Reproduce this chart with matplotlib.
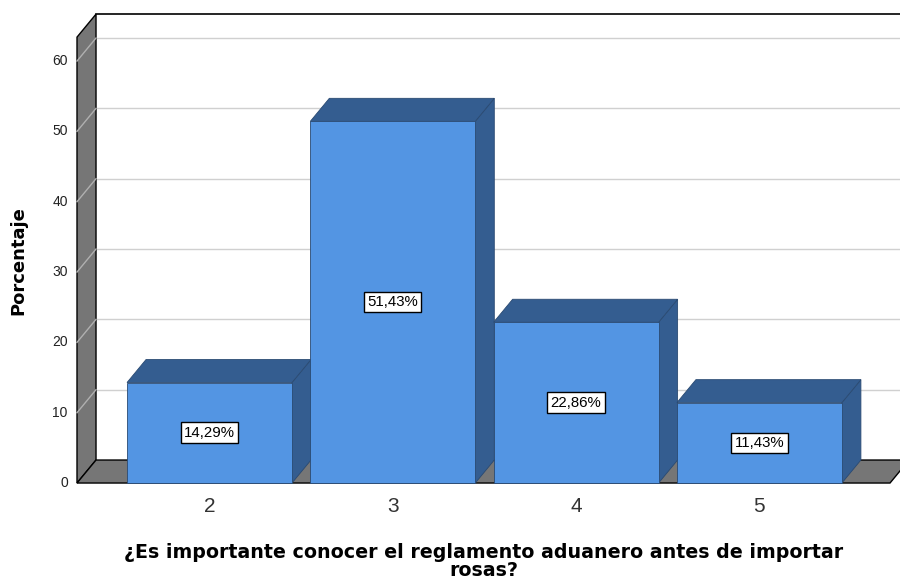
import matplotlib
matplotlib.use("Agg")
import matplotlib.pyplot as plt
from matplotlib.patches import Polygon, Rectangle

categories = ["2", "3", "4", "5"]
values = [14.29, 51.43, 22.86, 11.43]
labels = ["14,29%", "51,43%", "22,86%", "11,43%"]
yticks = [0, 10, 20, 30, 40, 50, 60]
ylabel = "Porcentaje"
xlabel = "¿Es importante conocer el reglamento aduanero antes de importar\nrosas?"

plt.rcParams['font.family'] = ['Liberation Sans', 'DejaVu Sans']

fig = plt.figure(figsize=(9, 5.81), dpi=100)
ax = fig.add_axes([0, 0, 1, 1])
ax.set_xlim(0.857, 5.767)
ax.set_ylim(-13.93, 68.68)
ax.axis('off')

# 3D geometry (data units)
dx, dy = 0.1037, 3.27
wall_x = 1.2771
top_v = 63.4
floor_right = 5.7125
bw = 0.9
wall_gray = '#767676'
grid_c = '#d0d0d0'
front_c = '#5395e3'
dark_c = '#345d90'

# back wall
ax.add_patch(Polygon([(wall_x + dx, dy), (6.5, dy), (6.5, top_v + dy), (wall_x + dx, top_v + dy)],
                     closed=True, facecolor='white', edgecolor='none', zorder=1))
ax.plot([wall_x + dx, 6.5], [top_v + dy, top_v + dy], color='black', lw=1.2, zorder=2)

# gridlines
for v in yticks[1:]:
    ax.plot([wall_x + dx, 6.5], [v + dy, v + dy], color=grid_c, lw=1.0, zorder=2)

# left wall
ax.add_patch(Polygon([(wall_x, 0), (wall_x + dx, dy), (wall_x + dx, top_v + dy), (wall_x, top_v)],
                     closed=True, facecolor=wall_gray, edgecolor='black', lw=1.0, zorder=3))
for v in yticks[1:]:
    ax.plot([wall_x, wall_x + dx], [v, v + dy], color='#b0b0b0', lw=1.0, zorder=4)

# floor
ax.add_patch(Polygon([(wall_x, 0), (floor_right, 0), (floor_right + dx, dy), (wall_x + dx, dy)],
                     closed=True, facecolor=wall_gray, edgecolor='black', lw=1.0, zorder=3))

# bars
xs = [2 + i for i in range(len(categories))]
for i, (c, val) in enumerate(zip(xs, values)):
    z = 5 + i
    l, r = c - bw / 2, c + bw / 2
    ax.add_patch(Polygon([(r, 0), (r + dx, dy), (r + dx, val + dy), (r, val)], closed=True,
                         facecolor=dark_c, edgecolor='#2a4a72', lw=0.6, zorder=z))
    ax.add_patch(Polygon([(l, val), (r, val), (r + dx, val + dy), (l + dx, val + dy)], closed=True,
                         facecolor=dark_c, edgecolor='#2a4a72', lw=0.6, zorder=z))
    ax.add_patch(Rectangle((l, 0), bw, val, facecolor=front_c, edgecolor='#2a4a72', lw=0.6, zorder=z))
    ax.text(c, val / 2, labels[i], ha='center', va='center', fontsize=10.8, color='black', zorder=20,
            bbox=dict(boxstyle='square,pad=0.22', facecolor='white', edgecolor='black', lw=1.0))
    ax.text(c, -3.3, categories[i], ha='center', va='center', fontsize=15, color='#333333')

for v in yticks:
    ax.text(wall_x - 0.05, v, str(v), ha='right', va='center', fontsize=10, color='#222222')

ax.text(0.955, 31.7, ylabel, rotation=90, ha='center', va='center', fontsize=13,
        fontweight='bold', color='black', family='DejaVu Sans')
ax.text(3.497, -11.15, xlabel, ha='center', va='center', fontsize=13.7, fontweight='bold',
        color='black', linespacing=0.98, family='DejaVu Sans')

fig.savefig('out.png', dpi=100)
